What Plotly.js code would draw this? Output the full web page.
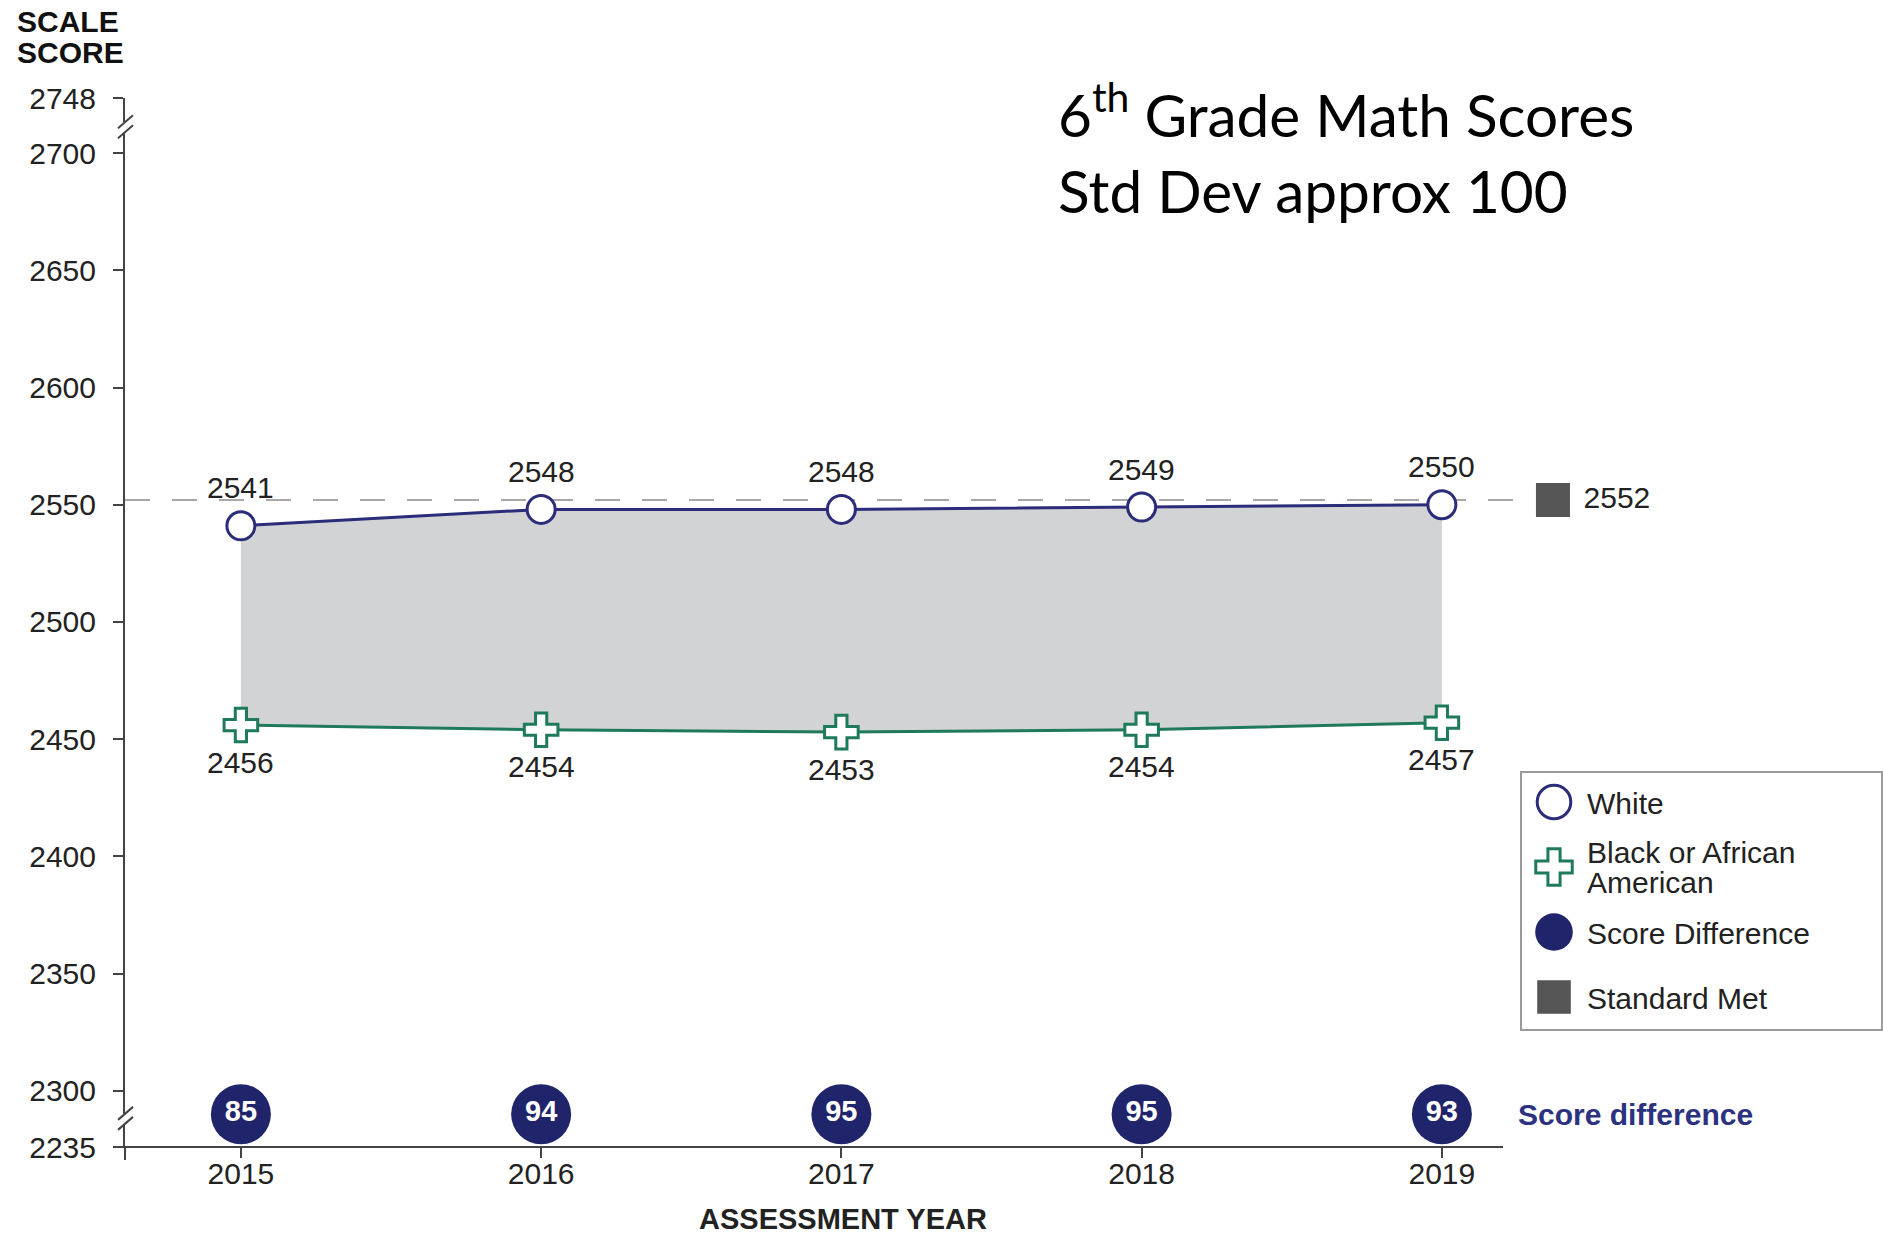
<!DOCTYPE html>
<html>
<head>
<meta charset="utf-8">
<script src="https://cdn.plot.ly/plotly-3.0.1.min.js"></script>
<style>html,body{margin:0;padding:0;background:#fff;} #chart{width:1883px;height:1234px;}</style>
</head>
<body>
<div id="chart"></div>
<script>
// ---- data ----
const years = [2015, 2016, 2017, 2018, 2019];
const whiteScores = [2541, 2548, 2548, 2549, 2550];
const blackScores = [2456, 2454, 2453, 2454, 2457];
const scoreDiff = [85, 94, 95, 95, 93];
const standardMet = 2552;
const yTickValues = [2300, 2350, 2400, 2450, 2500, 2550, 2600, 2650, 2700];
const yBreakLabels = ["2235", "2748"];
const seriesNames = ["White", "Black or African<br>American", "Score Difference", "Standard Met"];

// ---- layout constants ----
const W = 1883, H = 1234;
const L = 125, R = 1607, T = 98, B = 1147;
const yLow = 2276, yHigh = 2723.5;      // broken-axis ends (labelled 2235 / 2748)
const xLow = 2014.614, xHigh = 2019.55;
const diffRowY = 2290;
const stdMetX = 2019.37;
const px = x => (x - L) / (R - L);
const py = y => (B - y) / (B - T);

const NAVY = '#2b2c7a', NAVY_DARK = '#20246a', GREEN = '#1e7a5a', GRAY_FILL = '#d2d3d5', TXT = '#222';
const FONT = '"Liberation Sans", Arial, sans-serif';
const FS = 30;

const traces = [
  { x: years.concat(years.slice().reverse()), y: whiteScores.concat(blackScores.slice().reverse()),
    mode: 'none', fill: 'toself', fillcolor: GRAY_FILL, showlegend: false, hoverinfo: 'skip' },
  { x: years, y: blackScores, mode: 'lines', line: { color: GREEN, width: 3 }, showlegend: false },
  { x: years, y: whiteScores, mode: 'lines', line: { color: NAVY, width: 3 }, showlegend: false },
  { x: years, y: blackScores, mode: 'markers', name: seriesNames[1], legend: 'legend2',
    marker: { symbol: 'cross', size: 28, color: '#fff', line: { color: GREEN, width: 3 } } },
  { x: years, y: whiteScores, mode: 'markers', name: seriesNames[0], legend: 'legend',
    marker: { symbol: 'circle', size: 28, color: '#fff', line: { color: NAVY, width: 3 } } },
  { x: years, y: years.map(() => diffRowY), mode: 'markers+text', name: seriesNames[2], legend: 'legend3',
    text: scoreDiff.map(String), textposition: 'middle center',
    textfont: { family: FONT, size: 29, color: '#fff', weight: 'bold' },
    marker: { symbol: 'circle', size: 60, color: NAVY_DARK }, cliponaxis: false },
  { x: [stdMetX], y: [standardMet], mode: 'markers+text', name: seriesNames[3], legend: 'legend4',
    text: ['\u00a0' + String(standardMet)], textposition: 'middle right',
    textfont: { family: FONT, size: FS, color: TXT },
    marker: { symbol: 'square', size: 34, color: '#555' }, cliponaxis: false }
];

const annotations = [];
years.forEach((yr, i) => {
  annotations.push({ x: yr, y: whiteScores[i], xref: 'x', yref: 'y', text: String(whiteScores[i]),
    showarrow: false, yshift: 38, font: { family: FONT, size: FS, color: TXT } });
  annotations.push({ x: yr, y: blackScores[i], xref: 'x', yref: 'y', text: String(blackScores[i]),
    showarrow: false, yshift: -37, font: { family: FONT, size: FS, color: TXT } });
});
annotations.push(
  { xref: 'paper', yref: 'paper', x: px(1056), y: py(70), xanchor: 'left', yanchor: 'top', showarrow: false, align: 'left',
    text: '6<sup>th</sup> Grade Math Scores<br>Std Dev approx 100', font: { family: 'Lato, "Open Sans", sans-serif', size: 58.5, color: '#000' } },
  { xref: 'paper', yref: 'paper', x: px(15), y: py(22), xanchor: 'left', yanchor: 'middle', showarrow: false,
    text: '<b>SCALE</b>', font: { family: FONT, size: 30, color: '#111' } },
  { xref: 'paper', yref: 'paper', x: px(15), y: py(53), xanchor: 'left', yanchor: 'middle', showarrow: false,
    text: '<b>SCORE</b>', font: { family: FONT, size: 30, color: '#111' } },
  { xref: 'paper', yref: 'paper', x: px(843), y: py(1219), xanchor: 'center', yanchor: 'middle', showarrow: false,
    text: '<b>ASSESSMENT YEAR</b>', font: { family: FONT, size: 29, color: '#222' } },
  { xref: 'paper', yref: 'y', x: px(1516), y: diffRowY, xanchor: 'left', yanchor: 'middle', showarrow: false,
    text: '<b>Score difference</b>', font: { family: FONT, size: 30, color: '#2c3180' } }
);

const AX = '#444';
function breakShapes(yv) {
  return [
    { type: 'rect', xref: 'paper', yref: 'y', xsizemode: 'pixel', ysizemode: 'pixel', xanchor: 0, yanchor: yv,
      x0: -4, x1: 4, y0: -5, y1: 5, fillcolor: '#fff', line: { width: 0 }, layer: 'above' },
    { type: 'line', xref: 'paper', yref: 'y', xsizemode: 'pixel', ysizemode: 'pixel', xanchor: 0, yanchor: yv,
      x0: -7, x1: 8, y0: -1, y1: 12, line: { color: AX, width: 2 }, layer: 'above' },
    { type: 'line', xref: 'paper', yref: 'y', xsizemode: 'pixel', ysizemode: 'pixel', xanchor: 0, yanchor: yv,
      x0: -7, x1: 8, y0: -11, y1: 2, line: { color: AX, width: 2 }, layer: 'above' }
  ];
}

const shapes = [
  { type: 'line', xref: 'paper', yref: 'y', x0: 0, x1: px(1523), y0: standardMet, y1: standardMet,
    line: { color: '#a8a8a8', width: 2, dash: '25px,22px' }, layer: 'below' },
  { type: 'line', xref: 'paper', yref: 'paper', x0: px(113), x1: px(1503), y0: 0, y1: 0, line: { color: AX, width: 2 } },
  { type: 'line', xref: 'paper', yref: 'paper', x0: 0, x1: 0, y0: 0, y1: py(1160), line: { color: AX, width: 2 } },
  { type: 'rect', xref: 'paper', yref: 'paper', x0: px(1521), x1: px(1882), y0: py(772), y1: py(1030),
    line: { color: '#9a9a9a', width: 2 }, fillcolor: 'rgba(0,0,0,0)' },
  ...breakShapes(2288),
  ...breakShapes(2711)
];

function legendAt(cy) {
  return { x: px(1521), y: py(cy), xanchor: 'left', yanchor: 'middle', bgcolor: 'rgba(0,0,0,0)',
    borderwidth: 0, font: { family: FONT, size: FS, color: TXT }, itemwidth: 56, itemclick: false };
}

const layout = {
  width: W, height: H,
  margin: { l: L, r: W - R, t: T, b: H - B, pad: 0 },
  paper_bgcolor: '#fff', plot_bgcolor: '#fff',
  font: { family: FONT, size: FS, color: TXT },
  showlegend: true,
  legend: legendAt(802),
  legend2: legendAt(867),
  legend3: legendAt(932),
  legend4: legendAt(997),
  xaxis: { range: [xLow, xHigh], tickvals: years, ticktext: years.map(String), showline: false, showgrid: false, zeroline: false,
    ticks: 'outside', ticklen: 10, tickwidth: 2, tickcolor: AX, ticklabelstandoff: -10,
    tickfont: { family: FONT, size: FS, color: TXT } },
  yaxis: { range: [yLow, yHigh], tickvals: [yLow, ...yTickValues, yHigh],
    ticktext: [yBreakLabels[0], ...yTickValues.map(String), yBreakLabels[1]],
    showline: true, linecolor: AX, linewidth: 2, showgrid: false, zeroline: false,
    ticks: 'outside', ticklen: 10, tickwidth: 2, tickcolor: AX, ticklabelstandoff: 11,
    tickfont: { family: FONT, size: FS, color: TXT } },
  annotations: annotations,
  shapes: shapes
};

function tweakLegend(gd) {
  const scales = {};
  scales[seriesNames[0]] = 2.1; scales[seriesNames[1]] = 1.9; scales[seriesNames[2]] = 2.35; scales[seriesNames[3]] = 2.1;
  gd.querySelectorAll('g.traces').forEach(g => {
    const d = g.__data__;
    const tr = d && d[0] && d[0].trace;
    const k = tr ? (scales[tr.name] || 1) : 1;
    g.querySelectorAll('path.scatterpts').forEach(p => {
      if (p.getAttribute('data-scaled')) return;
      const t = p.getAttribute('transform') || '';
      p.setAttribute('transform', t + ' scale(' + k + ')');
      p.setAttribute('data-scaled', '1');
      p.style.vectorEffect = 'non-scaling-stroke';
    });
  });
  // tighten line spacing of the two-line legend entry
  gd.querySelectorAll('text').forEach(txt => {
    if (txt.textContent.indexOf('American') < 0 || txt.getAttribute('data-tight')) return;
    const tsp = txt.querySelectorAll('tspan');
    if (tsp.length < 2) return;
    const y0 = parseFloat(txt.getAttribute('y') || '0');
    let n = 0;
    tsp.forEach(ln => {
      if (ln.parentNode !== txt) return;
      ln.setAttribute('y', String(y0 + 4));
      ln.setAttribute('dy', (n * 30) + 'px');
      n++;
    });
    txt.setAttribute('data-tight', '1');
  });
}

Plotly.newPlot('chart', traces, layout, { displayModeBar: false, staticPlot: true }).then(gd => {
  tweakLegend(gd);
});
</script>
</body>
</html>
